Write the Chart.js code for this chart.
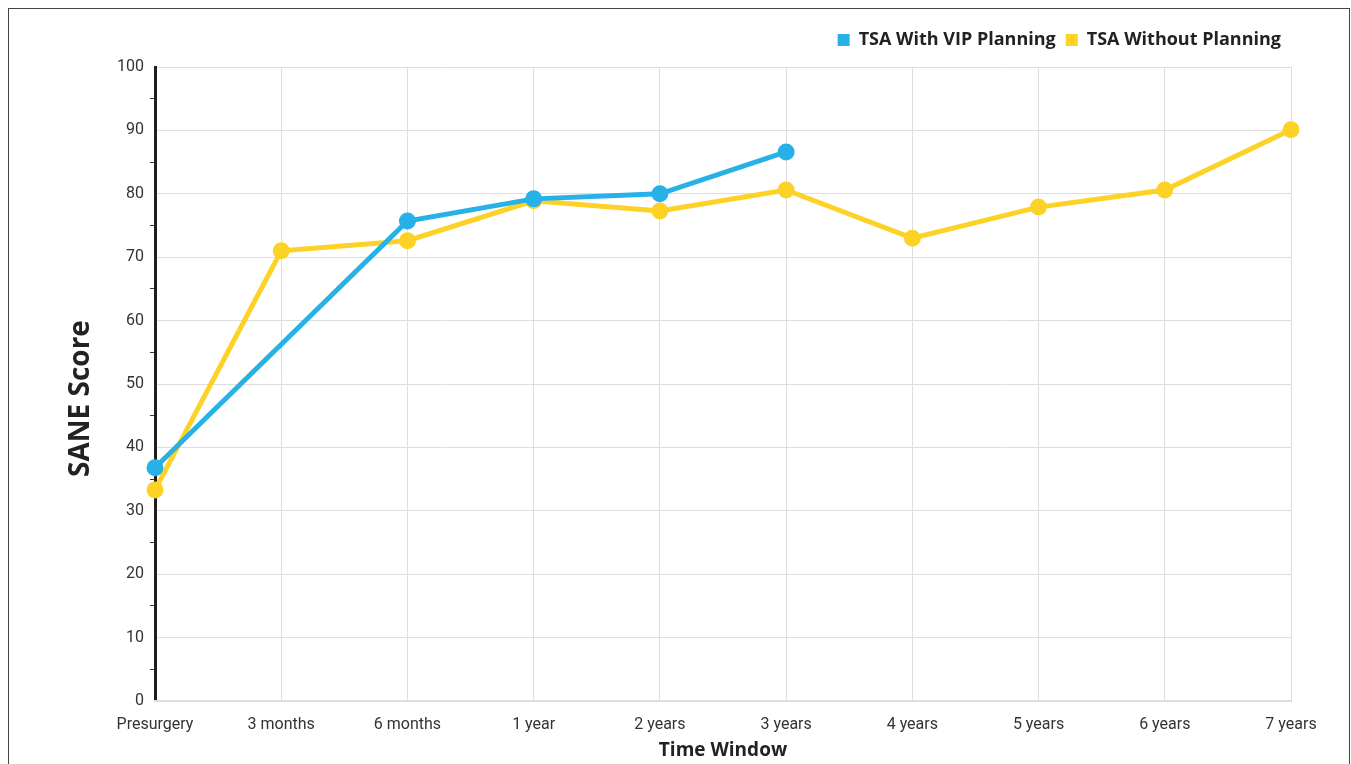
<!DOCTYPE html>
<html>
<head>
    <title>SANE Score</title>
    <script src="https://cdn.jsdelivr.net/npm/chart.js"></script>
    <style>
        body {
            margin: 0;
            background: #fff;
            overflow: hidden;
        }
        .frame {
            position: absolute;
            left: 8px;
            top: 8px;
            width: 1340px;
            height: 800px;
            border: 1px solid #444;
            border-bottom: none;
        }
        .chart-container {
            position: absolute;
            left: 0;
            top: 0;
            width: 1351px;
            height: 764px;
        }
    </style>
</head>
<body>
    <div class="frame"></div>
    <div class="chart-container">
        <canvas id="saneChart"></canvas>
    </div>

    <script>
        // data
        const labels = ['Presurgery', '3 months', '6 months', '1 year', '2 years', '3 years',
                        '4 years', '5 years', '6 years', '7 years'];
        const withVip = [36.8, null, 75.7, 79.2, 80.0, 86.6, null, null, null, null];
        const withoutPlanning = [33.3, 71.0, 72.6, 78.9, 77.3, 80.6, 73.0, 77.9, 80.6, 90.1];

        const blue = '#27b1e6';
        const yellow = '#fdd227';
        const tickFont = 'Roboto, "Noto Sans", sans-serif';
        const titleFont = '"Open Sans", "Noto Sans", sans-serif';

        // extra room under the legend
        const legendMargin = {
            id: 'legendMargin',
            beforeInit: function(chart) {
                const fit = chart.legend.fit;
                chart.legend.fit = function() {
                    fit.bind(chart.legend)();
                    this.height += 8;
                };
            }
        };

        const ctx = document.getElementById('saneChart').getContext('2d');
        new Chart(ctx, {
            type: 'line',
            data: {
                labels: labels,
                datasets: [
                    {
                        label: 'TSA With VIP Planning',
                        data: withVip,
                        borderColor: blue,
                        backgroundColor: blue,
                        borderWidth: 5,
                        pointRadius: 6,
                        pointHoverRadius: 6,
                        spanGaps: true,
                        tension: 0
                    },
                    {
                        label: 'TSA Without Planning',
                        data: withoutPlanning,
                        borderColor: yellow,
                        backgroundColor: yellow,
                        borderWidth: 5,
                        pointRadius: 6,
                        pointHoverRadius: 6,
                        tension: 0
                    }
                ]
            },
            plugins: [legendMargin],
            options: {
                responsive: true,
                maintainAspectRatio: false,
                animation: false,
                layout: {
                    padding: { left: 64, right: 60, top: 21, bottom: 2 }
                },
                plugins: {
                    tooltip: { enabled: false },
                    legend: {
                        position: 'top',
                        align: 'end',
                        labels: {
                            boxWidth: 12,
                            boxHeight: 12,
                            padding: 10,
                            color: '#222',
                            font: { family: titleFont, size: 18, weight: 'bold' },
                            generateLabels: function(chart) {
                                return chart.data.datasets.map(function(ds, i) {
                                    return {
                                        text: ds.label,
                                        fillStyle: ds.borderColor,
                                        strokeStyle: ds.borderColor,
                                        lineWidth: 0,
                                        hidden: false,
                                        datasetIndex: i,
                                        fontColor: '#222'
                                    };
                                });
                            }
                        }
                    }
                },
                scales: {
                    y: {
                        min: 0,
                        max: 100,
                        afterFit: function(scale) { scale.width = 91; },
                        ticks: {
                            stepSize: 5,
                            autoSkip: false,
                            color: '#333',
                            padding: 6,
                            font: { family: tickFont, size: 16 },
                            callback: function(v) { return v % 10 === 0 ? v : ''; }
                        },
                        grid: {
                            color: function(c) { return c.tick && c.tick.value % 10 === 0 ? '#dedede' : 'rgba(0,0,0,0)'; },
                            tickColor: function(c) { return c.tick && c.tick.value % 10 !== 0 ? '#333' : 'rgba(0,0,0,0)'; },
                            tickLength: 5,
                            lineWidth: 1
                        },
                        border: { color: '#1e1e1e', width: 3 },
                        title: {
                            display: true,
                            text: 'SANE Score    ',
                            color: '#222',
                            font: { family: titleFont, size: 28, weight: 'bold' },
                            padding: { top: 0, bottom: 0 }
                        }
                    },
                    x: {
                        afterFit: function(scale) { scale.height = 61; },
                        ticks: {
                            color: '#333',
                            padding: 14,
                            maxRotation: 0,
                            autoSkip: false,
                            font: { family: tickFont, size: 16 }
                        },
                        grid: {
                            color: '#dedede',
                            drawTicks: false
                        },
                        border: { color: '#dedede', width: 2 },
                        title: {
                            display: true,
                            text: 'Time Window',
                            color: '#222',
                            font: { family: titleFont, size: 19, weight: 'bold' },
                            padding: { top: 0, bottom: 0 }
                        }
                    }
                }
            }
        });
    </script>
</body>
</html>
